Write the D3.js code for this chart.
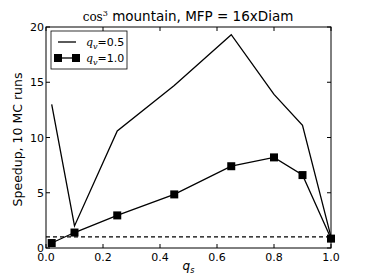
<!DOCTYPE html>
<html>
<head>
<meta charset="utf-8">
<script src="https://cdn.jsdelivr.net/npm/d3@7"></script>
<style>
  body { margin: 0; background: #fff; }
  text { font-family: "DejaVu Sans", sans-serif; }
</style>
</head>
<body>
<div id="chart"></div>
<script>
// data
var qs = [0.02, 0.1, 0.25, 0.45, 0.65, 0.8, 0.9, 1.0];
var speedupQv05 = [13.0, 2.0, 10.6, 14.7, 19.3, 13.9, 11.1, 1.0];
var speedupQv10 = [0.45, 1.4, 2.95, 4.85, 7.4, 8.2, 6.6, 0.85];
var xTicks = [0, 0.2, 0.4, 0.6, 0.8, 1.0];
var yTicks = [0, 5, 10, 15, 20];
var baseline = 1;

var w = 368, h = 277;
var margin = {left: 46, right: 37, top: 27, bottom: 29};

var svg = d3.select("#chart").append("svg")
    .attr("width", w)
    .attr("height", h);

var x = d3.scaleLinear().domain([0, 1]).range([margin.left, w - margin.right]);
var y = d3.scaleLinear().domain([0, 20]).range([h - margin.bottom, margin.top]);

// ticks, inward on all sides
var g = svg.append("g");
xTicks.forEach(function (t) {
    g.append("line").attr("x1", x(t)).attr("x2", x(t))
        .attr("y1", y(0)).attr("y2", y(0) - 4).attr("stroke", "#000");
    g.append("line").attr("x1", x(t)).attr("x2", x(t))
        .attr("y1", y(20)).attr("y2", y(20) + 4).attr("stroke", "#000");
    g.append("text").attr("x", x(t)).attr("y", y(0) + 13)
        .attr("text-anchor", "middle").attr("font-size", 11)
        .text(t.toFixed(1));
});
yTicks.forEach(function (t) {
    g.append("line").attr("x1", x(0)).attr("x2", x(0) + 4)
        .attr("y1", y(t)).attr("y2", y(t)).attr("stroke", "#000");
    g.append("line").attr("x1", x(1)).attr("x2", x(1) - 4)
        .attr("y1", y(t)).attr("y2", y(t)).attr("stroke", "#000");
    g.append("text").attr("x", x(0) - 2).attr("y", y(t) + 4)
        .attr("text-anchor", "end").attr("font-size", 11)
        .text(t);
});

// dashed baseline
svg.append("line")
    .attr("x1", x(0)).attr("x2", x(1))
    .attr("y1", y(baseline)).attr("y2", y(baseline))
    .attr("stroke", "#000").attr("stroke-width", 1.2)
    .attr("stroke-dasharray", "4,3");

var line = d3.line()
    .x(function (d) { return x(d[0]); })
    .y(function (d) { return y(d[1]); });

svg.append("path")
    .datum(d3.zip(qs, speedupQv05))
    .attr("d", line)
    .attr("fill", "none").attr("stroke", "#000").attr("stroke-width", 1.3);

svg.append("path")
    .datum(d3.zip(qs, speedupQv10))
    .attr("d", line)
    .attr("fill", "none").attr("stroke", "#000").attr("stroke-width", 1.3);

svg.selectAll("rect.mk")
    .data(d3.zip(qs, speedupQv10))
    .enter().append("rect")
    .attr("class", "mk")
    .attr("x", function (d) { return x(d[0]) - 4; })
    .attr("y", function (d) { return y(d[1]) - 4; })
    .attr("width", 8).attr("height", 8)
    .attr("fill", "#000");

// frame
svg.append("rect")
    .attr("x", x(0)).attr("y", y(20))
    .attr("width", x(1) - x(0)).attr("height", y(0) - y(20))
    .attr("fill", "none").attr("stroke", "#000").attr("stroke-width", 1);

// legend
var lg = svg.append("g");
lg.append("rect").attr("x", 51).attr("y", 31).attr("width", 76).attr("height", 38)
    .attr("fill", "#fff").attr("stroke", "#000").attr("stroke-width", 0.8);
lg.append("line").attr("x1", 58).attr("x2", 76).attr("y1", 42).attr("y2", 42)
    .attr("stroke", "#000").attr("stroke-width", 1.3);
lg.append("line").attr("x1", 58).attr("x2", 76).attr("y1", 58).attr("y2", 58)
    .attr("stroke", "#000").attr("stroke-width", 1.3);
lg.append("rect").attr("x", 54).attr("y", 54).attr("width", 8).attr("height", 8).attr("fill", "#000");
lg.append("rect").attr("x", 72).attr("y", 54).attr("width", 8).attr("height", 8).attr("fill", "#000");
[["0.5", 46], ["1.0", 62]].forEach(function (e) {
    var t = lg.append("text").attr("x", 86).attr("y", e[1]).attr("font-size", 11);
    t.append("tspan").attr("font-family", "DejaVu Serif").attr("font-style", "italic").text("q");
    t.append("tspan").attr("font-family", "DejaVu Serif").attr("font-style", "italic")
        .attr("font-size", 8).attr("dy", 3).text("v");
    t.append("tspan").attr("dy", -3).text("=" + e[0]);
});

// title
var title = svg.append("text").attr("x", 188).attr("y", 21)
    .attr("text-anchor", "middle").attr("font-size", 13.5);
title.append("tspan").attr("font-family", "DejaVu Serif").attr("font-size", 12).text("cos");
title.append("tspan").attr("font-family", "DejaVu Serif").attr("font-size", 8).attr("dy", -5).text("3");
title.append("tspan").attr("dy", 5).text("  mountain, MFP = 16xDiam");

// axis labels
var xl = svg.append("text").attr("x", (x(0) + x(1)) / 2).attr("y", 270)
    .attr("text-anchor", "middle").attr("font-size", 12)
    .attr("font-family", "DejaVu Serif").attr("font-style", "italic");
xl.append("tspan").text("q");
xl.append("tspan").attr("font-size", 8).attr("dy", 3).text("s");

svg.append("text")
    .attr("transform", "translate(22," + ((y(0) + y(20)) / 2 + 2) + ") rotate(-90)")
    .attr("text-anchor", "middle").attr("font-size", 12.5)
    .text("Speedup, 10 MC runs");
</script>
</body>
</html>
